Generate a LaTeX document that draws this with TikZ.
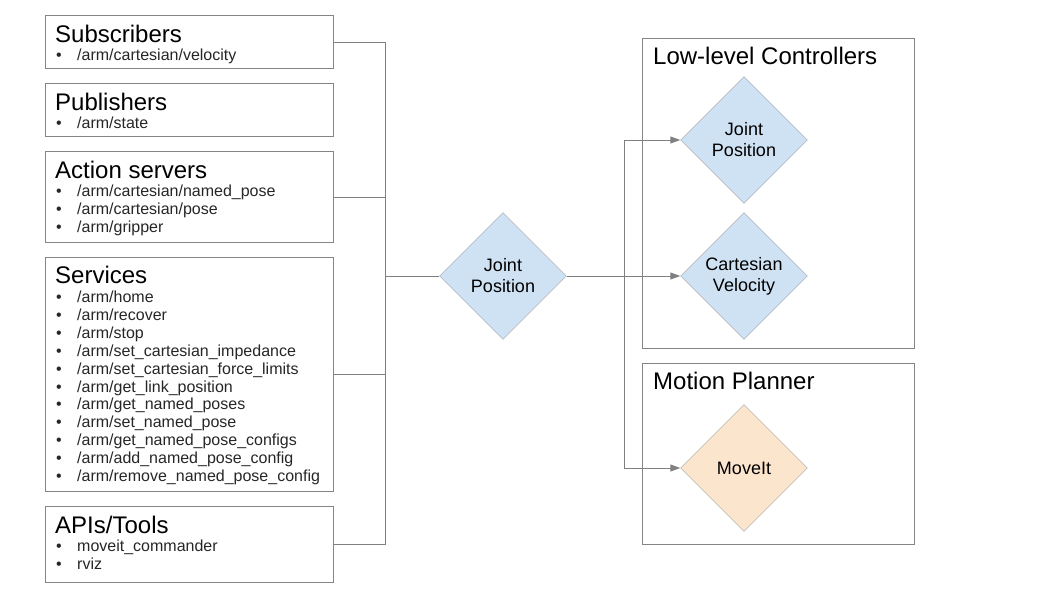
\documentclass[tikz,border=0pt]{standalone}
\usepackage{fontspec}
\setmainfont{Liberation Sans}
\usetikzlibrary{shapes.geometric,arrows.meta}
\definecolor{linegray}{HTML}{808080}
\definecolor{boxgray}{HTML}{858585}
\definecolor{diagray}{HTML}{A0A0A0}
\definecolor{ctrlblue}{HTML}{CFE2F3}
\definecolor{planorange}{HTML}{FCE5CD}

\tikzset{
  panel/.style={draw=boxgray, line width=1pt, anchor=north west, inner sep=0},
  heading/.style={anchor=base west, inner sep=0, font=\fontsize{24}{28}\selectfont},
  entry/.style={anchor=base west, inner sep=0, font=\fontsize{16}{18}\selectfont, text=black!85},
  block/.style={diamond, draw=diagray, aspect=1, minimum width=127pt, minimum height=127pt,
    inner sep=0, align=center, font=\fontsize{18}{21}\selectfont},
  wire/.style={draw=linegray, line width=1pt},
  feed/.style={wire, -{Triangle[length=10pt,width=7pt]}},
}
\newcommand{\bul}{\makebox[21pt][l]{\textbullet}}

\begin{document}
\begin{tikzpicture}[x=1pt,y=-1pt]
\useasboundingbox (0,0) rectangle (1058,595);
% interface boxes on the left
\node[panel, minimum width=288pt, minimum height=53pt] (subs) at (45,15) {};
\node[heading] (subs-title) at (55,42) {Subscribers};
\foreach \txt [count=\i] in {/arm/cartesian/velocity}
  \node[entry] (subs-\i) at (56,{60.5+17.9*(\i-1)}) {\bul\txt};

\node[panel, minimum width=288pt, minimum height=53pt] (pubs) at (45,83) {};
\node[heading] (pubs-title) at (55,110) {Publishers};
\foreach \txt [count=\i] in {/arm/state}
  \node[entry] (pubs-\i) at (56,{128.5+17.9*(\i-1)}) {\bul\txt};

\node[panel, minimum width=288pt, minimum height=91pt] (acts) at (45,151) {};
\node[heading] (acts-title) at (55,178) {Action servers};
\foreach \txt [count=\i] in {/arm/cartesian/named\_pose,/arm/cartesian/pose,/arm/gripper}
  \node[entry] (acts-\i) at (56,{196.5+17.9*(\i-1)}) {\bul\txt};

\node[panel, minimum width=288pt, minimum height=234pt] (srvs) at (45,257) {};
\node[heading] (srvs-title) at (55,283) {Services};
\foreach \txt [count=\i] in {/arm/home,/arm/recover,/arm/stop,/arm/set\_cartesian\_impedance,
    /arm/set\_cartesian\_force\_limits,/arm/get\_link\_position,/arm/get\_named\_poses,
    /arm/set\_named\_pose,/arm/get\_named\_pose\_configs,/arm/add\_named\_pose\_config,
    /arm/remove\_named\_pose\_config}
  \node[entry] (srvs-\i) at (56,{302.5+17.9*(\i-1)}) {\bul\txt};

\node[panel, minimum width=288pt, minimum height=76pt] (apis) at (45,506) {};
\node[heading] (apis-title) at (55,533) {APIs/Tools};
\foreach \txt [count=\i] in {moveit\_commander,rviz}
  \node[entry] (apis-\i) at (56,{551.5+17.9*(\i-1)}) {\bul\txt};

% controller groups on the right
\node[panel, minimum width=272pt, minimum height=310pt] (llc) at (642,38) {};
\node[heading] (llc-title) at (653,64) {Low-level Controllers};
\node[panel, minimum width=272pt, minimum height=181pt] (plan) at (642,363) {};
\node[heading] (plan-title) at (653,389) {Motion Planner};

\node[block, fill=ctrlblue] (hub) at (503,276) {Joint\\Position};
\node[block, fill=ctrlblue] (jpos) at (744,140) {Joint\\Position};
\node[block, fill=ctrlblue] (cvel) at (744,276) {Cartesian\\Velocity};
\node[block, fill=planorange] (moveit) at (744,468) {MoveIt};

% connectors
\coordinate (bus) at (385,276);
\coordinate (split) at (624,276);
\draw[wire] (subs.east) -| (bus);
\draw[wire] (acts.east) -| (bus);
\draw[wire] (srvs.east) -| (bus);
\draw[wire] (apis.east) -| (bus) -- (hub.west);
\draw[feed] (hub.east) -- (cvel.west);
\draw[feed] (split) |- (jpos.west);
\draw[feed] (split) |- (moveit.west);
\end{tikzpicture}
\end{document}
